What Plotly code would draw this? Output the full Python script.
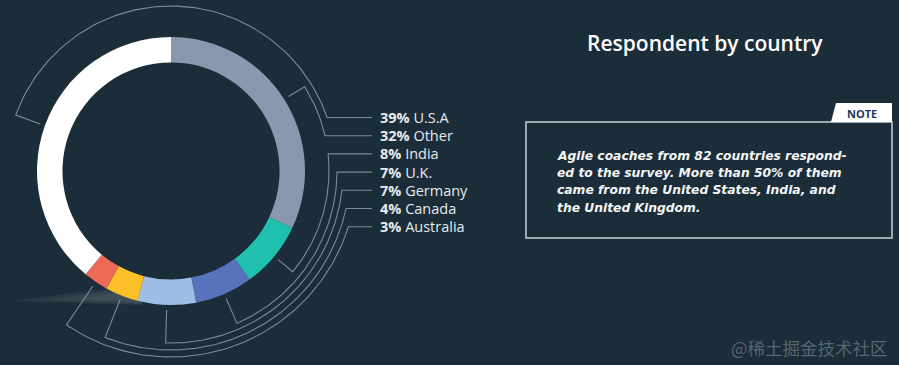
import numpy as np
import plotly.graph_objects as go

# ---- data (slice order: clockwise from 12 o'clock) ----
countries = ["Other", "India", "U.K.", "Germany", "Canada", "Australia", "U.S.A"]
shares = [32, 8, 7, 7, 4, 3, 39]
slice_colors = ["#8898ae", "#1fc0ad", "#5773bc", "#9dbfe6", "#fbbf28", "#f06856", "#ffffff"]

# ---- legend / label order ----
label_order = ["U.S.A", "Other", "India", "U.K.", "Germany", "Canada", "Australia"]
label_pct = ["39%", "32%", "8%", "7%", "7%", "4%", "3%"]

title_text = "Respondent by country"
note_title = "NOTE"
note_lines = ["Agile coaches from 82 countries respond-",
              "ed to the survey. More than 50% of them",
              "came from the United States, India, and",
              "the United Kingdom."]
watermark = "@稀土掘金技术社区"

# ---- layout constants (pixels) ----
W, H = 899, 365
BG = "#1b2d39"
CX, CY, R_OUT = 171, 171, 134
HOLE = 0.81
TICK_R = 139
ARC_R = {"U.S.A": 165, "Other": 158, "India": 158, "U.K.": 166,
         "Germany": 172, "Canada": 179, "Australia": 186}
LABEL_Y0, LABEL_DY = 117.5, 18.2
LINE_END_X, LABEL_X = 372, 378
LINE_COLOR = "rgba(160,176,188,0.72)"
NOTE_Y0, NOTE_DY = 155.5, 17.4

fig = go.Figure()

# faint light streak under the ring
streaks = [((12, 301), (142, 284), (142, 305)),
           ((45, 300), (142, 286), (142, 304)),
           ((80, 299), (142, 288), (142, 303))]
for pts in streaks:
    xs = [p[0] for p in pts] + [pts[0][0]]
    ys = [p[1] for p in pts] + [pts[0][1]]
    fig.add_trace(go.Scatter(x=xs, y=ys, mode="lines", fill="toself",
                             fillcolor="rgba(255,255,255,0.06)", line=dict(width=0),
                             hoverinfo="skip", showlegend=False))

# slice angles (deg, clockwise from top)
total = sum(shares)
starts, spans = {}, {}
acc = 0.0
for c, v in zip(countries, shares):
    starts[c] = acc / total * 360
    spans[c] = v / total * 360
    acc += v

def pt(r, th):
    t = np.radians(th)
    return CX + r * np.sin(t), CY - r * np.cos(t)

lx, ly = [], []
for i, c in enumerate(label_order):
    yl = LABEL_Y0 + i * LABEL_DY
    r = ARC_R[c]
    th_t = starts[c] + spans[c] / 2
    th_e = np.degrees(np.arccos((CY - yl) / r))
    if th_t > 270 and th_e < 180:
        th_t -= 360
    x0, y0 = pt(TICK_R, th_t)
    x1, y1 = pt(r, th_t)
    lx += [x0, x1]
    ly += [y0, y1]
    for th in np.linspace(th_t, th_e, 120):
        x, y = pt(r, th)
        lx.append(x)
        ly.append(y)
    lx += [LINE_END_X, None]
    ly += [yl, None]

fig.add_trace(go.Scatter(x=lx, y=ly, mode="lines", line=dict(color=LINE_COLOR, width=1.1),
                         hoverinfo="skip", showlegend=False))

# donut
fig.add_trace(go.Pie(
    labels=countries, values=shares, sort=False, direction="clockwise", rotation=0,
    hole=HOLE, textinfo="none", hoverinfo="label+percent",
    marker=dict(colors=slice_colors, line=dict(width=0)),
    domain=dict(x=[(CX - R_OUT) / W, (CX + R_OUT) / W],
                y=[1 - (CY + R_OUT) / H, 1 - (CY - R_OUT) / H]),
    showlegend=False))

annotations = []
for i, (c, p) in enumerate(zip(label_order, label_pct)):
    yl = LABEL_Y0 + i * LABEL_DY
    annotations.append(dict(x=LABEL_X, y=yl, xref="x", yref="y", xanchor="left", yanchor="middle",
                            text=f"<b>{p}</b> {c}", showarrow=False,
                            font=dict(family="Open Sans", size=14.5, color="#e6eaed")))

annotations.append(dict(x=705, y=43, xref="x", yref="y", xanchor="center", yanchor="middle",
                        text=title_text, showarrow=False,
                        font=dict(family="Open Sans", size=21, color="#ffffff", weight=600)))
annotations.append(dict(x=862, y=113, xref="x", yref="y", xanchor="center", yanchor="middle",
                        text=note_title, showarrow=False,
                        font=dict(family="Open Sans", size=11, color="#1d3a57", weight=700)))
for i, line in enumerate(note_lines):
    annotations.append(dict(x=555, y=NOTE_Y0 + i * NOTE_DY, xref="x", yref="y",
                            xanchor="left", yanchor="middle", align="left", text=line,
                            showarrow=False,
                            font=dict(family="DejaVu Sans", size=12.3, color="#f4f6f7",
                                      style="italic", weight=700)))
annotations.append(dict(x=890, y=347, xref="x", yref="y", xanchor="right", yanchor="middle",
                        text=watermark, showarrow=False,
                        font=dict(family="Noto Sans CJK SC", size=17.5, color="rgba(200,210,215,0.35)")))

shapes = [
    dict(type="rect", xref="x", yref="y", x0=526, x1=892, y0=122, y1=238,
         line=dict(color="#c9d1d6", width=1.5), fillcolor="rgba(0,0,0,0)"),
    dict(type="path", xref="x", yref="y", path="M 831 122 L 836 103 L 892 103 L 892 122 Z",
         fillcolor="#ffffff", line=dict(width=0)),
]

fig.update_layout(
    width=W, height=H, autosize=False,
    margin=dict(l=0, r=0, t=0, b=0, pad=0),
    paper_bgcolor=BG, plot_bgcolor=BG,
    xaxis=dict(range=[0, W], visible=False, domain=[0, 1], fixedrange=True),
    yaxis=dict(range=[H, 0], visible=False, domain=[0, 1], fixedrange=True),
    annotations=annotations, shapes=shapes,
    showlegend=False,
)

fig.write_html("out.html", config={"displayModeBar": False},
               post_script="document.body.style.margin='0';document.body.style.background='%s';" % BG)
